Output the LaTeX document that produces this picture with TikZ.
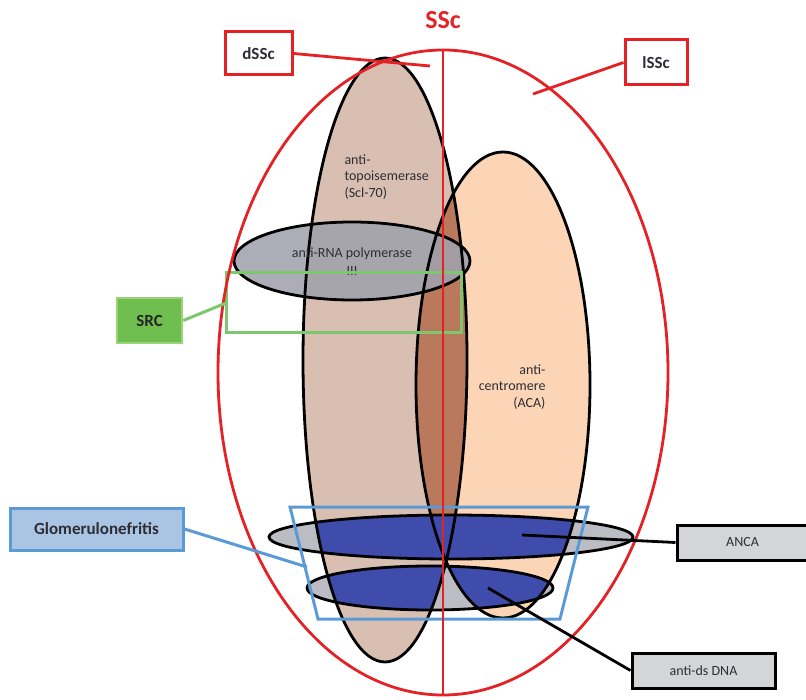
\documentclass[tikz,border=0pt]{standalone}
\usepackage{fontspec}
\setmainfont{Carlito}
\definecolor{redl}{RGB}{228,34,38}
\definecolor{tanE}{RGB}{217,191,177}
\definecolor{peachE}{RGB}{251,213,181}
\definecolor{dbrown}{RGB}{186,120,92}
\definecolor{greyE}{RGB}{160,162,172}
\definecolor{greyL}{RGB}{188,189,196}
\definecolor{blueF}{RGB}{64,76,172}
\definecolor{greenl}{RGB}{125,200,110}
\definecolor{greenF}{RGB}{112,190,80}
\definecolor{greenB}{RGB}{150,212,120}
\definecolor{blueL}{RGB}{90,155,215}
\definecolor{blueBox}{RGB}{170,196,228}
\definecolor{boxgrey}{RGB}{212,213,217}
\definecolor{txt}{RGB}{45,45,52}
\newcommand\brownE{(385,360) ellipse [x radius=82, y radius=302]}
\newcommand\peachEl{(503,385) ellipse [x radius=87, y radius=233]}
\newcommand\rnaE{(352,261) ellipse [x radius=118, y radius=39]}
\newcommand\ancaE{(451,537) ellipse [x radius=182, y radius=22]}
\newcommand\dnaE{(430,588) ellipse [x radius=123, y radius=22]}
\tikzset{
  outl/.style={draw=black, line width=2.8pt},
  redbox/.style={draw=redl, fill=white, line width=3pt, text=txt, font=\fontsize{17}{20}\selectfont\bfseries},
  greybox/.style={draw=black, fill=boxgrey, line width=3pt, text=txt, font=\fontsize{14}{16}\selectfont},
  smalltxt/.style={text=txt, font=\fontsize{14}{16.5}\selectfont},
  redline/.style={draw=redl, line width=2.8pt},
}
\begin{document}
\begin{tikzpicture}[x=1pt,y=-1pt]
\useasboundingbox (0,0) rectangle (806,700);
% fills
\fill[tanE] \brownE;
\fill[peachE] \peachEl;
\begin{scope}
  \clip \brownE;
  \fill[dbrown] \peachEl;
\end{scope}
\fill[greyE, opacity=0.88] \rnaE;
\fill[greyL] \ancaE;
\begin{scope}
  \clip \ancaE;
  \fill[blueF] \brownE;
  \fill[blueF] \peachEl;
\end{scope}
\fill[greyL] \dnaE;
\begin{scope}
  \clip \dnaE;
  \fill[blueF] \brownE;
  \fill[blueF] \peachEl;
\end{scope}
% outlines
\draw[outl] \brownE;
\draw[outl] \peachEl;
\draw[outl] \rnaE;
\draw[outl] \ancaE;
\draw[outl] \dnaE;
% texts in ellipses
\node[smalltxt, anchor=west, align=left] (topo) at (341,177) {anti-\\topoisemerase\\(Scl-70)};
\node[smalltxt, anchor=east, align=right] (aca) at (549,387) {anti-\\centromere\\(ACA)};
\node[smalltxt, align=center, font=\fontsize{14}{18}\selectfont] (rna) at (352,262) {anti-RNA polymerase\\III};
% regions
\draw[draw=greenl, line width=3pt] (226,273) rectangle (461,333);
\draw[draw=blueL, line width=3pt] (290,507) -- (588,507) -- (560,619) -- (318,619) -- cycle;
% SSc
\draw[redline] (443,372.5) ellipse [x radius=225, y radius=322.5];
\coordinate (top) at (443,50);
\coordinate (bot) at (443,695);
\draw[redline] (top) -- (bot);
\node[text=redl, font=\fontsize{26}{30}\selectfont\bfseries] (ssc) at (443,20) {SSc};
% boxes
\node[redbox, minimum width=67pt, minimum height=43pt, inner sep=0pt] (dssc) at (258.5,53.5) {dSSc};
\node[redbox, minimum width=62pt, minimum height=45pt, inner sep=0pt] (lssc) at (656,62.5) {lSSc};
\coordinate (dsscEnd) at (430,66);
\coordinate (lsscEnd) at (533,94);
\draw[redline] (dssc.east) -- (dsscEnd);
\draw[redline] (lssc.west) -- (lsscEnd);
\node[draw=greenB, fill=greenF, line width=2.5pt, minimum width=65pt, minimum height=45pt, inner sep=0pt, text=black!85, font=\fontsize{17}{20}\selectfont\bfseries] (src) at (149.5,320.5) {SRC};
\coordinate (srcEnd) at (226,303);
\draw[draw=greenl, line width=3pt] (src.east) -- (srcEnd);
\node[draw=blueL, fill=blueBox, line width=3pt, minimum width=173pt, minimum height=42pt, inner sep=0pt, text=txt, font=\fontsize{17}{20}\selectfont\bfseries] (glom) at (96.5,529) {Glomerulonefritis};
\coordinate (glomEnd) at (307,567);
\draw[draw=blueL, line width=3pt] (glom.east) -- (glomEnd);
\node[greybox, minimum width=131pt, minimum height=35pt, inner sep=0pt] (anca) at (742.5,542.5) {ANCA};
\node[greybox, minimum width=143pt, minimum height=35pt, inner sep=0pt] (dna) at (703.5,670.5) {anti-ds DNA};
\coordinate (ancaStart) at (522,535);
\coordinate (dnaStart) at (488,588);
\draw[line width=2.8pt] (ancaStart) -- (anca.west);
\draw[line width=2.8pt] (dnaStart) -- (dna.west);
\end{tikzpicture}
\end{document}
